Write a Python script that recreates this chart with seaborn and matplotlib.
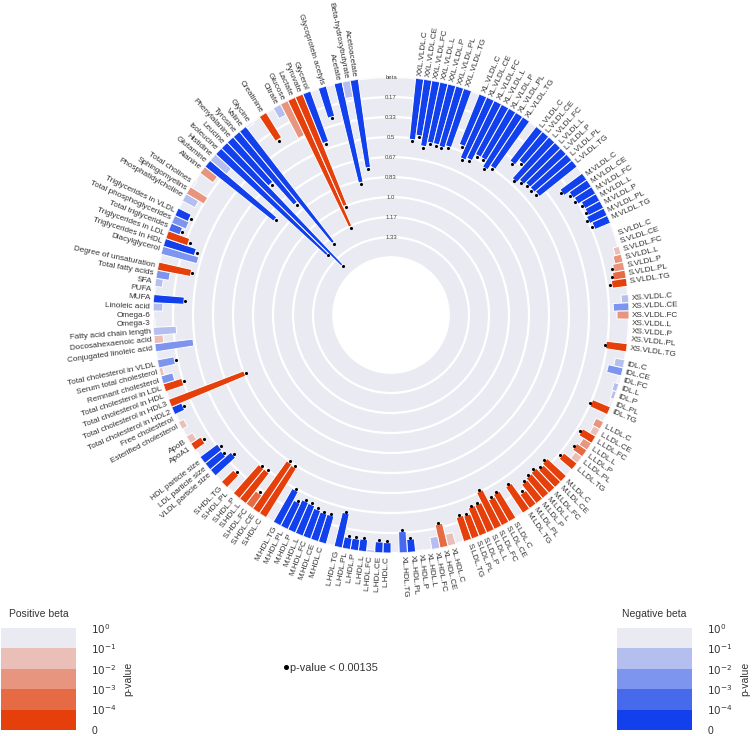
import numpy as np
import matplotlib
matplotlib.use('Agg')
import matplotlib.pyplot as plt
from matplotlib.colors import ListedColormap, BoundaryNorm
from matplotlib.cm import ScalarMappable
from matplotlib.lines import Line2D
import seaborn as sns

# Lipoprotein subclasses (one group each) and the measures inside every group
subclasses = ['XXL.VLDL', 'XL.VLDL', 'L.VLDL', 'M.VLDL', 'S.VLDL', 'XS.VLDL', 'IDL',
              'L.LDL', 'M.LDL', 'S.LDL', 'XL.HDL', 'L.HDL', 'M.HDL', 'S.HDL']
measures = ['C', 'CE', 'FC', 'L', 'P', 'PL', 'TG']

# beta per subclass, measures in the order above
lipo_beta = [
    [-0.51, -0.47, -0.55, -0.51, -0.51, -0.52, -0.50],
    [-0.45, -0.55, -0.53, -0.47, -0.47, -0.53, -0.49],
    [-0.36, -0.31, -0.46, -0.43, -0.41, -0.41, -0.40],
    [-0.23, -0.18, -0.17, -0.14, -0.14, -0.16, -0.14],
    [-0.005, -0.01, 0.05, 0.07, 0.09, 0.105, 0.125],
    [-0.06, -0.13, 0.10, 0.003, -0.003, 0.003, 0.175],
    [-0.08, -0.125, 0.02, -0.04, -0.03, 0.02, 0.16],
    [0.07, 0.06, 0.125, 0.08, 0.10, 0.07, 0.14],
    [0.215, 0.20, 0.225, 0.217, 0.20, 0.14, 0.26],
    [0.26, 0.24, 0.34, 0.25, 0.25, 0.20, 0.21],
    [0.10, 0.197, -0.10, 0.003, -0.01, -0.108, -0.176],
    [-0.086, -0.09, -0.02, -0.10, -0.096, -0.095, -0.29],
    [-0.24, -0.24, -0.25, -0.27, -0.275, -0.24, -0.32],
    [0.48, 0.49, 0.135, 0.32, 0.32, 0.003, 0.14],
]
lipo_p = [
    [1e-6] * 7,
    [1e-6] * 7,
    [1e-6] * 7,
    [1e-6] * 7,
    [0.5, 0.5, 0.05, 0.008, 0.001, 0.0005, 5e-5],
    [0.05, 0.005, 0.005, 0.8, 0.9, 0.7, 1e-5],
    [0.03, 0.005, 0.2, 0.05, 0.05, 0.2, 1e-5],
    [0.005, 0.03, 5e-5, 0.006, 0.0005, 0.03, 1e-5],
    [1e-6] * 7,
    [1e-6] * 7,
    [0.05, 0.0003, 0.05, 0.9, 0.4, 5e-5, 0.0003],
    [1e-5, 1e-5, 0.05, 1e-5, 1e-5, 1e-5, 1e-6],
    [1e-6] * 7,
    [1e-6, 1e-6, 0.0003, 1e-6, 1e-6, 0.9, 1e-5],
]

# Remaining metabolite groups, clockwise
other_labels = [
    ['VLDL particle size', 'LDL particle size', 'HDL particle size'],
    ['ApoA1', 'ApoB'],
    ['Esterified cholesterol', 'Free cholesterol', 'Total cholesterol in HDL2',
     'Total cholesterol in HDL3', 'Total cholesterol in HDL', 'Total cholesterol in LDL',
     'Remnant cholesterol', 'Serum total cholesterol', 'Total cholesterol in VLDL'],
    ['Conjugated linoleic acid', 'Docosahexaenoic acid', 'Fatty acid chain length',
     'Omega-3', 'Omega-6', 'Linoleic acid', 'MUFA', 'PUFA', 'SFA',
     'Total fatty acids', 'Degree of unsaturation'],
    ['Diacylglycerol', 'Triglycerides in HDL', 'Triglycerides in LDL',
     'Total triglycerides', 'Total phosphoglycerides', 'Triglycerides in VLDL'],
    ['Phosphatidylcholine', 'Sphingomyelins', 'Total cholines'],
    ['Alanine', 'Glutamine', 'Histidine', 'Isoleucine', 'Leucine', 'Phenylalanine',
     'Tyrosine', 'Valine', 'Glycine'],
    ['Creatinine'],
    ['Citrate', 'Glucose', 'Lactate', 'Pyruvate', 'Glycerol'],
    ['Glycoprotein acetyls'],
    ['Acetate', 'Beta-hydroxybutyrate', 'Acetoacetate'],
]
other_beta = [
    [-0.226, -0.17, -0.18],
    [0.10, 0.06],
    [0.05, 0.01, -0.09, 0.67, 0.003, 0.16, -0.10, 0.03, -0.14],
    [-0.32, 0.076, -0.19, 0.015, 0.0, -0.08, -0.254, 0.0, -0.063, -0.11, 0.28],
    [-0.31, -0.27, 0.19, -0.10, -0.13, -0.12],
    [-0.12, 0.17, -0.02],
    [0.135, -0.73, -0.18, -1.25, -1.40, -0.50, -0.76, -1.21, -0.02],
    [0.245],
    [-0.10, 0.32, 1.17, 0.995, -0.445],
    [-0.26],
    [-0.85, -0.14, -0.74],
]
other_p = [
    [1e-6, 1e-5, 1e-6],
    [5e-5, 0.05],
    [0.05, 0.3, 5e-5, 1e-10, 0.9, 1e-5, 0.005, 0.05, 0.001],
    [0.005, 0.05, 0.02, 0.3, 0.9, 0.02, 1e-6, 0.9, 0.05, 0.008, 1e-6],
    [0.005, 1e-6, 1e-5, 0.0005, 0.006, 5e-5],
    [0.02, 0.005, 0.3],
    [0.008, 1e-8, 0.03, 1e-12, 1e-12, 1e-7, 1e-8, 1e-12, 0.3],
    [1e-6],
    [0.03, 0.005, 1e-12, 1e-12, 1e-7],
    [1e-7],
    [1e-10, 0.03, 1e-10],
]

radial_ticks = np.arange(9) / 6
p_edges = [1e-4, 1e-3, 1e-2, 1e-1]
p_ticklabels = ['0', '$10^{-4}$', '$10^{-3}$', '$10^{-2}$', '$10^{-1}$', '$10^{0}$']
DOT_P = 0.00135

# Layout
N_SLOTS = 182      # angular slots round the circle
START_SLOT = 3     # empty slots before the first bar
HOLE = 0.483       # empty centre, in beta units
LABEL_COLOR = '#333333'

sns.set_theme(style='darkgrid')
plt.rcParams['font.family'] = ['Liberation Sans', 'DejaVu Sans']

labels = [f'{s}.{m}' for s in subclasses for m in measures] + \
         [lab for grp in other_labels for lab in grp]
beta = np.array([b for row in lipo_beta for b in row] + [b for grp in other_beta for b in grp])
pval = np.array([p for row in lipo_p for p in row] + [p for grp in other_p for p in grp])
sizes = [len(measures)] * len(subclasses) + [len(g) for g in other_labels]

slots = []
pos = START_SLOT
for n in sizes:
    slots.extend(range(pos, pos + n))
    pos += n + 1
slot_w = 2 * np.pi / N_SLOTS
theta = (np.array(slots) + 0.5) * slot_w

pos_colors = sns.blend_palette(['#eaeaf2', '#e5400b'], 5)
neg_colors = sns.blend_palette(['#eaeaf2', '#1140ec'], 5)
level = 4 - np.digitize(pval, p_edges)
colors = [pos_colors[l] if b >= 0 else neg_colors[l] for b, l in zip(beta, level)]

fig = plt.figure(figsize=(7.52, 7.36), dpi=100)
ax = fig.add_axes([0.2035, 0.2486, 0.633, 0.6467], projection='polar')
ax.set_theta_zero_location('N')
ax.set_theta_direction(-1)

ax.bar(theta, np.abs(beta), width=slot_w, bottom=0, color=colors,
       edgecolor='white', linewidth=0.7)
sig = pval < DOT_P
ax.scatter(theta[sig], np.abs(beta)[sig] + 0.012, s=5, color='black', zorder=5,
           linewidths=0, clip_on=False)

ax.set_ylim(1.5, 0)
ax.set_rorigin(1.5 + HOLE)
ax.set_xticks([])
ax.set_yticks(radial_ticks)
ax.set_yticklabels([])
ax.yaxis.grid(True, color='white', linewidth=1.6)
ax.spines['polar'].set_visible(False)

for t in radial_ticks:
    txt = 'beta' if t == 0 else str(round(t, 2))
    ax.text(0, t, txt, ha='center', va='center', fontsize=4.3, color='#444444')

for th, lab in zip(theta, labels):
    deg = np.degrees(th)
    if deg < 180:
        rot, ha = 90 - deg, 'left'
    else:
        rot, ha = 270 - deg, 'right'
    ax.text(th, -0.025, lab, rotation=rot, rotation_mode='anchor', ha=ha, va='center',
            fontsize=5.9, color=LABEL_COLOR)


def add_pbar(rect, palette, title):
    cax = fig.add_axes(rect)
    cmap = ListedColormap(palette[::-1])
    norm = BoundaryNorm(np.arange(6), cmap.N)
    cb = fig.colorbar(ScalarMappable(norm=norm, cmap=cmap), cax=cax, ticks=np.arange(6))
    cb.set_ticklabels(p_ticklabels)
    cb.outline.set_visible(False)
    cax.grid(False)
    cax.tick_params(length=0, pad=11, labelsize=7.5, labelcolor=LABEL_COLOR)
    cb.set_label('p-value', rotation=90, fontsize=7.5, labelpad=5, color=LABEL_COLOR)
    cax.set_title(title, fontsize=7.5, pad=8, color=LABEL_COLOR)


add_pbar([0.0013, 0.0082, 0.0997, 0.1386], pos_colors, 'Positive beta')
add_pbar([0.8205, 0.0082, 0.0997, 0.1386], neg_colors, 'Negative beta')

dot_handle = Line2D([], [], marker='o', color='black', linestyle='', markersize=2.6)
fig.legend([dot_handle], ['p-value < 0.00135'], loc='center',
           bbox_to_anchor=(0.44, 0.092), frameon=False, fontsize=7.8,
           handlelength=0.5, handletextpad=0.15, labelcolor=LABEL_COLOR)

fig.savefig('out.png', dpi=100)
